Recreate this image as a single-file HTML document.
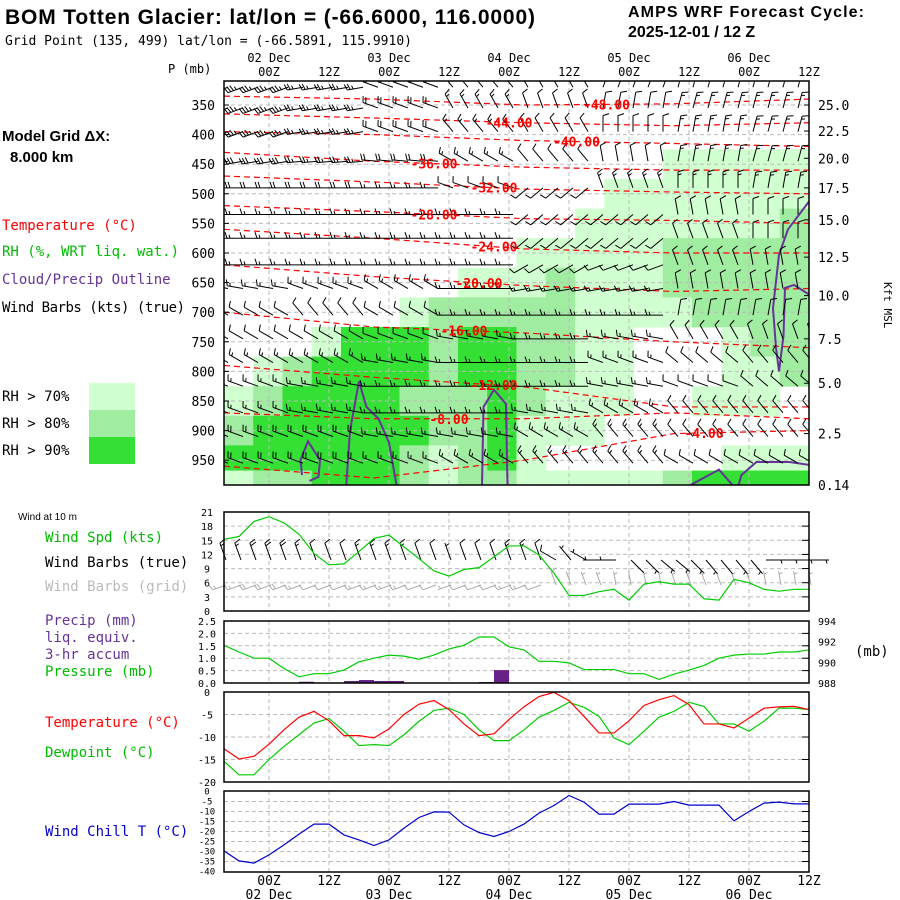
<!DOCTYPE html>
<html><head><meta charset="utf-8"><style>
body{margin:0;background:#fff}
svg{display:block}
text{font-family:"Liberation Sans",sans-serif}
text.m{font-family:"DejaVu Sans Mono","Liberation Mono",monospace}
</style></head><body>
<svg id="c" width="900" height="900" xmlns="http://www.w3.org/2000/svg">
<rect width="900" height="900" fill="#fff"/>
<text x="5" y="24" font-size="21" font-weight="bold" textLength="530">BOM Totten Glacier:  lat/lon = (-66.6000, 116.0000)</text>
<text x="5" y="45" font-size="13" class="m">Grid Point (135, 499) lat/lon = (-66.5891, 115.9910)</text>
<text x="628" y="17" font-size="16" font-weight="bold" textLength="236">AMPS WRF Forecast Cycle:</text>
<text x="628" y="37" font-size="16" font-weight="bold">2025-12-01 / 12  Z</text>
<text x="168" y="73" font-size="12" class="m">P (mb)</text>
<text x="2" y="141" font-size="15" font-weight="bold">Model Grid ΔX:</text>
<text x="10" y="162" font-size="15" font-weight="bold">8.000 km</text>
<g font-size="14">
<text class="m" x="2" y="230" fill="#f00">Temperature (°C)</text>
<text class="m" x="2" y="256" fill="#0b0">RH (%, WRT liq. wat.)</text>
<text class="m" x="2" y="284" fill="#639">Cloud/Precip Outline</text>
<text class="m" x="2" y="312" fill="#000" textLength="183">Wind Barbs (kts) (true)</text>
<text class="m" x="2" y="401">RH &gt; 70%</text>
<text class="m" x="2" y="428">RH &gt; 80%</text>
<text class="m" x="2" y="455">RH &gt; 90%</text>
<text x="18" y="520" font-size="10">Wind at 10 m</text>
<text class="m" x="45" y="542" fill="#0b0">Wind Spd (kts)</text>
<text class="m" x="45" y="567">Wind Barbs (true)</text>
<text class="m" x="45" y="591" fill="#bbb">Wind Barbs (grid)</text>
<text class="m" x="45" y="625" fill="#639">Precip (mm)</text>
<text class="m" x="45" y="642" fill="#639">liq. equiv.</text>
<text class="m" x="45" y="659" fill="#639">3-hr accum</text>
<text class="m" x="45" y="676" fill="#0b0">Pressure (mb)</text>
<text class="m" x="45" y="727" fill="#f00">Temperature (°C)</text>
<text class="m" x="45" y="757" fill="#0b0">Dewpoint (°C)</text>
<text class="m" x="45" y="836" fill="#00c">Wind Chill T (°C)</text>
<text class="m" x="855" y="656">(mb)</text>
<text class="m" x="884" y="282" transform="rotate(90 884 282)" font-size="11">Kft MSL</text>
</g>
<rect x="89" y="383" width="46" height="27" fill="#d0ffd0"/>
<rect x="89" y="410" width="46" height="27" fill="#a0eca0"/>
<rect x="89" y="437" width="46" height="27" fill="#33e033"/>
<defs><clipPath id="upclip"><rect x="224" y="81" width="585" height="404"/></clipPath></defs>
<g id="g"></g>
</svg>
<script>
// ===== data =====
const dayLabels = ["02 Dec","03 Dec","04 Dec","05 Dec","06 Dec"];
const pLevels = [350,400,450,500,550,600,650,700,750,800,850,900,950];
const kftTicks = ["25.0","22.5","20.0","17.5","15.0","12.5","10.0","7.5","5.0","2.5","0.14"];
const kftPress = [350,394,440,490,544,607,672,745,820,905,992];
const rhRowP = [350,400,450,500,550,600,650,700,750,800,850,900,950,985];
const rhGrid = [
"00000000000000000000",
"00000000000000000000",
"00000000000000011111",
"00000000000001111111",
"00000000000011111112",
"00000000001111122222",
"00000000111211122222",
"00000012222211112222",
"00013332332211000122",
"01233332332211000112",
"12333322232111001110",
"23333332231110000000",
"33333321231000000111",
"12233321221111123333"];
const isoLevels = [-48,-44,-40,-36,-32,-28,-24,-20,-16,-12,-8,-4];
const isoAnchorT = [0,10,20,30,39];
const isoP = [
[335,340,350,348,340],[365,372,380,385,380],[395,400,410,415,420],[430,445,455,460,460],
[470,480,492,497,500],[520,530,542,545,550],[560,575,593,600,600],[620,640,655,665,660],
[700,725,735,750,760],[790,810,826,860,860],[870,880,880,870,880],[960,980,950,905,900]];
const isoLabelT = [25.5,19,23.5,14,18,14,18,17,16,18,15,32];
const cloudOutlines = [
[[5.2,975],[5.1,950],[5.6,918],[6.4,950],[6.3,978],[5.7,985]],
[[8.15,992],[8.4,900],[9.0,817],[9.5,860],[10.3,880],[11.0,920],[11.5,992]],
[[17.2,992],[17.3,860],[18,831],[18.8,855],[18.9,992]],
[[39,513],[37.6,560],[37,603],[36.6,693],[36.8,760],[37,800],[37.3,740],[37.4,659],[38,654],[39,670]],
[[31.1,992],[33,966],[33.9,992]],
[[34.3,992],[34.5,975],[35.5,953],[37.7,953],[39,958]]];
const barbP = [320,355,395,445,490,535,575,620,660,705,745,785,825,870,910,955];
const barbDir = [
[250,260,290,320,330,20,15,15],[250,260,290,330,340,10,15,15],[250,260,290,320,330,360,10,15],
[260,265,275,300,320,350,10,15],[270,270,270,290,230,340,360,10],[270,270,270,270,230,230,350,360],
[270,270,270,270,230,230,340,360],[270,270,270,270,240,250,340,350],[280,290,300,270,260,260,350,350],
[300,320,300,270,270,270,10,10],[300,300,290,280,270,280,330,340],[300,300,280,270,270,290,310,320],
[290,280,270,270,270,280,290,310],[290,280,270,270,280,300,320,320],[290,290,280,280,300,320,320,320],
[290,290,290,300,320,320,300,300]];
const barbSpd = [
[35,25,20,15,10,15,15,15],[35,25,20,15,10,10,15,15],[35,25,20,15,10,10,15,15],[30,25,20,15,10,10,15,15],
[20,20,15,10,10,15,15,15],[15,15,15,15,10,10,10,10],[15,15,15,15,10,10,10,10],[15,15,15,15,10,10,10,10],
[15,15,15,15,15,15,10,10],[10,10,10,15,15,15,10,10],[10,10,10,15,15,15,10,10],[15,15,15,15,15,15,10,10],
[15,15,15,15,15,15,10,10],[15,15,15,15,15,15,10,10],[20,20,15,15,15,15,10,10],[20,20,15,15,15,15,10,10]];
const windSpd = [15.2,15.8,19,20,18.7,16.3,12.2,9.8,10,12.6,15.4,16.1,13.6,11.1,8.5,7.4,8.8,9.2,11.5,13.8,13.8,11.9,8,3.3,3.3,4.1,4.6,2.3,5.7,6.2,5.7,5.7,2.6,2.3,6.7,6,4.6,4.2,4.6,4.6];
const sfcDir = [340,340,340,340,340,340,340,340,340,340,340,340,340,340,340,340,340,340,340,340,340,340,300,320,300,270,270,135,135,130,130,135,140,140,140,140,90,90,90,90];
const gridDir = [250,250,250,250,250,250,250,250,250,250,250,250,250,250,250,250,250,250,250,250,250,250,340,340,340,340,350,350,350,350,340,340,340,340,340,340,350,350,350,350];
const pressure = [991.65,991,990.4,990.4,989.4,988.6,988.9,988.9,989.25,990.05,990.4,990.7,990.6,990.3,990.7,991.3,991.65,992.45,992.45,991.5,991.2,990.1,990.1,989.95,989.3,989.3,989.3,988.9,988.9,988.35,988.85,989.25,989.7,990.4,990.7,990.8,990.8,991,991,991.2];
const precip = [0,0,0,0,0,0,0.05,0,0,0.08,0.12,0.08,0.08,0,0,0,0,0,0.04,0.52,0,0,0,0,0,0,0,0,0,0,0,0,0,0,0,0,0,0,0,0];
const temp = [-12.6,-14.9,-14.3,-11.6,-8.4,-5.6,-4.3,-6.4,-9.7,-9.7,-10.2,-8.2,-5,-2.7,-1.9,-3.9,-7.1,-9.7,-9.3,-6.1,-3.3,-1,-0.1,-1.9,-5.4,-9.1,-9.1,-6.4,-3,-1.7,-0.8,-2.8,-7.1,-7.1,-8,-5.8,-3.6,-3.3,-3.2,-3.9];
const dewp = [-15.4,-18.4,-18.4,-15,-12.1,-9.5,-6.9,-5.9,-8.7,-11.9,-11.7,-11.9,-9.5,-6.5,-4.1,-3.6,-5,-8.4,-10.8,-10.8,-8.4,-5.6,-4.1,-2.3,-3.4,-5.4,-10.2,-11.7,-8.7,-5.6,-4.3,-2.3,-3.2,-7.1,-7.1,-8.7,-6.5,-3.6,-3.6,-3.9];
const windChill = [-29.7,-34.7,-35.8,-31.7,-26.7,-21.3,-16.3,-16.3,-21.7,-24.2,-27,-24.2,-18.3,-13,-10.2,-10.3,-16.7,-20.5,-22.5,-20,-16.3,-10.8,-7,-2,-5.3,-11.3,-11.3,-6.3,-6.3,-6.3,-5,-6.8,-6.8,-6.8,-14.7,-10,-5.8,-5.3,-6.2,-6.2];
const windTicks = [0,3,6,9,12,15,18,21];
const precipTicks = ["0.0","0.5","1.0","1.5","2.0","2.5"];
const presTicks = [988,990,992,994];
const tempTicks = [0,-5,-10,-15,-20];
const wcTicks = [0,-5,-10,-15,-20,-25,-30,-35,-40];

// ===== axes =====
const X0=224, DX=15, XL=224, XR=809;
const X = i => X0 + DX*i;
const Yp = p => 105 + (p-350)*0.592;
const Yw = v => 611 - v*99/21;
const Ypr = v => 683 - v*62/2.5;
const Yps = p => 683 - (p-988)*62/6;
const Yt = t => 692 - t*4.5;
const Ywc = t => 791.5 - t*2;
const NS="http://www.w3.org/2000/svg";
const G=document.getElementById('g');
function mk(tag,at,par){const e=document.createElementNS(NS,tag);for(const k in at)e.setAttribute(k,at[k]);(par||G).appendChild(e);return e;}
function txt(x,y,s,at,par){const e=mk('text',Object.assign({x:x,y:y,'font-size':12,'class':'m'},at||{}),par);e.textContent=s;return e;}
const n=windSpd.length;

// ===== upper panel =====
const up=mk('g',{});


const upc=mk('g',{'clip-path':'url(#upclip)'},up);
const cw=(XR-XL)/20;
rhGrid.forEach((row,r)=>{
  const pTop = r===0?309:(rhRowP[r-1]+rhRowP[r])/2;
  const pBot = r===rhRowP.length-1?992:(rhRowP[r]+rhRowP[r+1])/2;
  for(let c=0;c<20;c++){const v=+row[c]; if(!v) continue;
    const cell=mk('rect',{x:XL+c*cw,y:Yp(pTop),width:cw+0.5,height:Yp(pBot)-Yp(pTop)+0.5,fill:['','#d0ffd0','#a0eca0','#33e033'][v]},upc);
    
    
  }
});
for(let k=0;k<10;k++){const x=X(3+4*k); if(x>=XR) break;
  mk('line',{x1:x,y1:81,x2:x,y2:485,stroke:'#bbb','stroke-dasharray':'4 3'},upc);}
pLevels.forEach(p=>{mk('line',{x1:XL,y1:Yp(p),x2:XR,y2:Yp(p),stroke:'#bbb','stroke-dasharray':'4 3'},upc);
  txt(215,Yp(p)+5,String(p),{'text-anchor':'end','font-size':13},up);
  mk('line',{x1:XL,y1:Yp(p),x2:XL+5,y2:Yp(p),stroke:'#000'},up);});
kftTicks.forEach((s,k)=>{txt(818,Yp(kftPress[k])+5,s,{'font-size':13},up);
  mk('line',{x1:XR-5,y1:Yp(kftPress[k]),x2:XR,y2:Yp(kftPress[k]),stroke:'#000'},up);});
function isoAt(k,t){let s=0;while(s<isoAnchorT.length-2&&t>isoAnchorT[s+1])s++;
  const f=(t-isoAnchorT[s])/(isoAnchorT[s+1]-isoAnchorT[s]);return isoP[k][s]+(isoP[k][s+1]-isoP[k][s])*f;}
isoLevels.forEach((lv,k)=>{
  let d='';for(let i=0;i<n;i++){d+=(i?'L':'M')+X(i)+' '+Yp(isoAt(k,i));}
  const l=mk('path',{d:d,fill:'none',stroke:'#f00','stroke-dasharray':'6 4','stroke-width':1.2},upc);
  
  
});
cloudOutlines.forEach(ol=>{
  const d=ol.map((q,j)=>(j?'L':'M')+X(q[0])+' '+Yp(q[1])).join('');
  const o=mk('path',{d:d,fill:'none',stroke:'#639','stroke-width':2},upc);
  
  
});
function barb(x,y,dir,spd,col,par,len){
  len=len||16;const a=dir*Math.PI/180;const ux=Math.sin(a),uy=-Math.cos(a);
  const ex=x+ux*len,ey=y+uy*len;const px=-uy,py=ux;
  let d='M'+x+' '+y+'L'+ex+' '+ey;let r=Math.round(spd/5)*5;let pos=0;
  while(r>=50){const bx=ex-ux*pos,by=ey-uy*pos;d+='M'+bx+' '+by+'L'+(bx+px*6-ux*2)+' '+(by+py*6-uy*2)+'L'+(bx-ux*4)+' '+(by-uy*4);pos+=5;r-=50;}
  while(r>=10){const bx=ex-ux*pos,by=ey-uy*pos;d+='M'+bx+' '+by+'L'+(bx+px*6+ux*2)+' '+(by+py*6+uy*2);pos+=3;r-=10;}
  if(r>=5){if(pos===0)pos=3;const bx=ex-ux*pos,by=ey-uy*pos;d+='M'+bx+' '+by+'L'+(bx+px*3.5+ux*1)+' '+(by+py*3.5+uy*1);}
  return mk('path',{d:d,fill:'none',stroke:col,'stroke-width':1},par);
}
barbP.forEach((p,r)=>{for(let i=0;i<n;i++){const s=Math.min(7,Math.floor(i/5));
  const b=barb(X(i)+4,Yp(p),barbDir[r][s],barbSpd[r][s],'#000',upc);
  
  }});
isoLevels.forEach((lv,k)=>{
  const t=isoLabelT[k];
  const lb=txt(X(t),Yp(isoAt(k,t))+5,lv.toFixed(2),{fill:'#f00','font-weight':'bold','font-size':13,'text-anchor':'middle'},up);
  
  
});
mk('rect',{x:XL,y:81,width:XR-XL,height:404,fill:'none',stroke:'#000','stroke-width':1.5},up);
for(let k=0;k<10;k++){const x=X(3+4*k);txt(x,76,k%2?'12Z':'00Z',{'text-anchor':'middle','font-size':12},up);
  if(k%2===0)txt(x,62,dayLabels[k/2],{'text-anchor':'middle','font-size':12},up);}

// ===== lower panels =====
function panel(name,y0,y1){const p=mk('g',{});
  for(let k=0;k<10;k++){const x=X(3+4*k);if(x<XR)mk('line',{x1:x,y1:y0,x2:x,y2:y1,stroke:'#bbb','stroke-dasharray':'4 3'},p);}return p;}
function hgrid(p,y){mk('line',{x1:XL,y1:y,x2:XR,y2:y,stroke:'#bbb','stroke-dasharray':'4 3'},p);
  mk('line',{x1:XR-7,y1:y,x2:XR,y2:y,stroke:'#000'},p);}
function box(p,y0,y1){mk('rect',{x:XL,y:y0,width:XR-XL,height:y1-y0,fill:'none',stroke:'#000','stroke-width':1.5},p);}
function line(p,arr,fy,col,name){const d=arr.map((v,i)=>(i?'L':'M')+X(i)+' '+fy(v)).join('');
  const l=mk('path',{d:d,fill:'none',stroke:col,'stroke-width':1.2},p);}
const pw=panel('wind-panel',512,611);
windTicks.forEach(v=>{if(v>0&&v<21)hgrid(pw,Yw(v));txt(207,Yw(v)+4,String(v),{'font-size':10,'text-anchor':'middle'},pw);});
for(let i=0;i<n;i++){const g=barb(X(i)+2,585,gridDir[i],windSpd[i],'#aaa',pw,14);
  
  }
for(let i=0;i<n;i++){const b=barb(X(i)+2,560,sfcDir[i],windSpd[i],'#000',pw,18);
  
  }
line(pw,windSpd,Yw,'#0c0','wind-speed-line');
box(pw,512,611);
const pp=panel('precip-pressure-panel',621,683);
precipTicks.forEach((s,k)=>{const y=Ypr(k*0.5);if(k>0&&k<5)hgrid(pp,y);txt(207,y+4,s,{'font-size':10,'text-anchor':'middle'},pp);});
presTicks.forEach(v=>txt(818,Yps(v)+4,String(v),{'font-size':10},pp));
precip.forEach((v,i)=>{if(v>0){const r=mk('rect',{x:X(i-1),y:Ypr(v),width:DX,height:683-Ypr(v),fill:'#662288'},pp);
  
  }});
line(pp,pressure,Yps,'#0c0','pressure-line');
box(pp,621,683);
const pt=panel('temperature-panel',692,782);
tempTicks.forEach(v=>{if(v<0&&v>-20)hgrid(pt,Yt(v));txt(207,Yt(v)+4,String(v),{'font-size':10,'text-anchor':'middle'},pt);});
line(pt,dewp,Yt,'#0c0','dewpoint-line');
line(pt,temp,Yt,'#f00','temperature-line');
box(pt,692,782);
const pc=panel('wind-chill-panel',791,872);
wcTicks.forEach(v=>{if(v<0&&v>-40)hgrid(pc,Ywc(v));txt(207,Ywc(v)+3,String(v),{'font-size':9,'text-anchor':'middle'},pc);});
line(pc,windChill,Ywc,'#00c','wind-chill-line');
box(pc,791,872);
for(let k=0;k<10;k++){const x=X(3+4*k);txt(x,885,k%2?'12Z':'00Z',{'text-anchor':'middle','font-size':13});
  if(k%2===0)txt(x,899,dayLabels[k/2],{'text-anchor':'middle','font-size':13});}
</script>
</body></html>
